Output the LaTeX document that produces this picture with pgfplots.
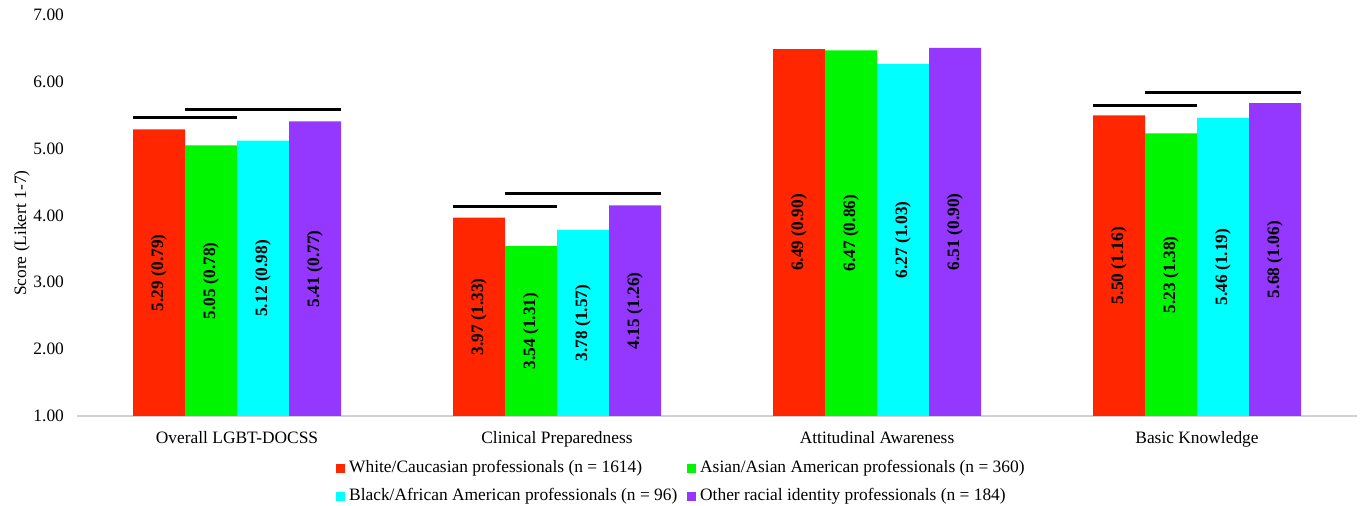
\documentclass[border=0pt]{standalone}
\usepackage{fontspec}
\setmainfont{Liberation Serif}
\usepackage{pgfplots}
\pgfplotsset{compat=1.18}
\definecolor{cRed}{RGB}{255,38,0}
\definecolor{cGreen}{RGB}{0,245,0}
\definecolor{cCyan}{RGB}{0,255,255}
\definecolor{cPurple}{RGB}{148,55,255}
\newcommand{\fs}{\fontsize{8.7}{10}\selectfont}
\begin{document}
\begin{tikzpicture}
\begin{axis}[
  scale only axis,
  width=640pt, height=200.5pt,
  ybar, bar width=0.1625,
  xmin=-0.5, xmax=3.5,
  ymin=1, ymax=7,
  ytick={1,2,3,4,5,6,7},
  xtick={0,1,2,3},
  xticklabels={Overall LGBT-DOCSS, Clinical Preparedness, Attitudinal Awareness, Basic Knowledge},
  axis x line*=bottom, axis y line*=left,
  x axis line style={draw=gray!35, line width=0.8pt, -},
  y axis line style={draw=none},
  tick style={draw=none},
  ticklabel style={font=\fs},
  yticklabel style={xshift=-3pt, /pgf/number format/fixed, /pgf/number format/fixed zerofill, /pgf/number format/precision=2, /pgf/number format/assume math mode=true},
  xticklabel style={yshift=0pt},
  ylabel={Score (Likert 1-7)},
  ylabel style={font=\fs, at={(ticklabel cs:0.456)}, yshift=-5pt},
  legend columns=2,
  legend cell align=left,
  legend style={draw=none, font=\fs, at={(0.473,-0.1)}, anchor=north, inner sep=0pt,
    /tikz/every even column/.append style={column sep=3pt}, row sep=2.5pt},
  legend image code/.code={\fill[#1] (0pt,-2.2pt) rectangle (4.4pt,2.2pt);},
  clip=false,
]
\addplot[fill=cRed, draw=none, bar shift=-0.24375] coordinates {(0,5.29) (1,3.97) (2,6.49) (3,5.50)};
\addplot[fill=cGreen, draw=none, bar shift=-0.08125] coordinates {(0,5.05) (1,3.54) (2,6.47) (3,5.23)};
\addplot[fill=cCyan, draw=none, bar shift=0.08125] coordinates {(0,5.12) (1,3.78) (2,6.27) (3,5.46)};
\addplot[fill=cPurple, draw=none, bar shift=0.24375] coordinates {(0,5.41) (1,4.15) (2,6.51) (3,5.68)};
\legend{White/Caucasian professionals (n = 1614), Asian/Asian American professionals (n = 360), Black/African American professionals (n = 96), Other racial identity professionals (n = 184)}
% labels at bar middles
\pgfplotsset{lbl/.style={forget plot, draw=none, fill=none, point meta=explicit symbolic,
  nodes near coords, nodes near coords align={center},
  every node near coord/.append style={rotate=90, anchor=center, font=\fs\bfseries, text=black}}}
\addplot[lbl, bar shift=-0.24375] coordinates {(0,3.145) [5.29 (0.79)] (1,2.485) [3.97 (1.33)] (2,3.745) [6.49 (0.90)] (3,3.25) [5.50 (1.16)]};
\addplot[lbl, bar shift=-0.08125] coordinates {(0,3.025) [5.05 (0.78)] (1,2.27) [3.54 (1.31)] (2,3.735) [6.47 (0.86)] (3,3.115) [5.23 (1.38)]};
\addplot[lbl, bar shift=0.08125] coordinates {(0,3.06) [5.12 (0.98)] (1,2.39) [3.78 (1.57)] (2,3.635) [6.27 (1.03)] (3,3.23) [5.46 (1.19)]};
\addplot[lbl, bar shift=0.24375] coordinates {(0,3.205) [5.41 (0.77)] (1,2.575) [4.15 (1.26)] (2,3.755) [6.51 (0.90)] (3,3.34) [5.68 (1.06)]};
% significance lines
\addplot[sharp plot, black, line width=1.5pt, forget plot] coordinates {(-0.325,5.46) (0,5.46)};
\addplot[sharp plot, black, line width=1.5pt, forget plot] coordinates {(-0.1625,5.59) (0.325,5.59)};
\addplot[sharp plot, black, line width=1.5pt, forget plot] coordinates {(0.675,4.14) (1,4.14)};
\addplot[sharp plot, black, line width=1.5pt, forget plot] coordinates {(0.8375,4.33) (1.325,4.33)};
\addplot[sharp plot, black, line width=1.5pt, forget plot] coordinates {(2.675,5.65) (3,5.65)};
\addplot[sharp plot, black, line width=1.5pt, forget plot] coordinates {(2.8375,5.84) (3.325,5.84)};
\end{axis}
\pgfresetboundingbox
\path[use as bounding box] ([shift={(-38.5pt,-45pt)}]current axis.south west) rectangle ([shift={(2.5pt,7.5pt)}]current axis.north east);
\end{tikzpicture}
\end{document}
